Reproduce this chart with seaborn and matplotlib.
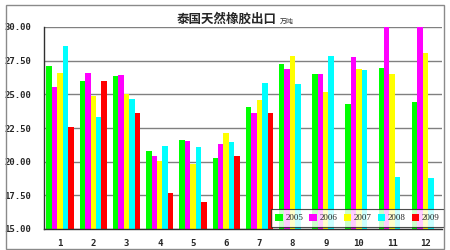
import numpy as np
import pandas as pd
import matplotlib
matplotlib.use("Agg")
import matplotlib.pyplot as plt
from matplotlib.patches import Rectangle, Patch
import seaborn as sns

months = ["1", "2", "3", "4", "5", "6", "7", "8", "9", "10", "11", "12"]
years = ["2005", "2006", "2007", "2008", "2009"]
v2005 = [27.08, 26.00, 26.38, 20.82, 21.64, 20.25, 24.06, 27.25, 26.49, 24.28, 26.98, 24.41]
v2006 = [25.52, 26.56, 26.44, 20.42, 21.56, 21.34, 23.64, 26.90, 26.49, 27.77, 30.20, 30.20]
v2007 = [26.56, 24.88, 25.03, 20.05, 19.85, 22.10, 24.58, 27.87, 25.17, 26.90, 26.49, 28.07]
v2008 = [28.59, 23.30, 24.63, 21.19, 21.11, 21.49, 25.84, 25.75, 27.85, 26.81, 18.89, 18.77]
v2009 = [22.60, 25.97, 23.60, 17.68, 16.98, 20.45, 23.60, np.nan, np.nan, np.nan, np.nan, np.nan]
colors = ["#00FF00", "#FF00FF", "#FFFF00", "#00FFFF", "#FF0000"]
title = "泰国天然橡胶出口"
unit = "万吨"

series = [v2005, v2006, v2007, v2008, v2009]
rows = []
for y, vals in zip(years, series):
    for m, v in zip(months, vals):
        rows.append({"month": m, "year": y, "value": v})
df = pd.DataFrame(rows)

sns.set_style("white")
plt.rcParams["font.family"] = ["Noto Sans CJK SC", "DejaVu Sans"]

W, H = 450, 250
fig = plt.figure(figsize=(W / 100, H / 100), dpi=100)
fig.patch.set_facecolor("white")

# outer frame
fig.patches.append(Rectangle((6 / W, 1 / H), 438 / W, 244 / H, transform=fig.transFigure,
                             fill=False, edgecolor="#8a8a8a", linewidth=1.0, zorder=0))

x0, x1, ytop, ybot = 43.5, 442, 27, 229
ax = fig.add_axes([x0 / W, (H - ybot) / H, (x1 - x0) / W, (ybot - ytop) / H])

sns.barplot(data=df, x="month", y="value", hue="year", hue_order=years, order=months,
            palette=colors, width=0.82, linewidth=0, saturation=1, ax=ax, legend=False)

ax.set_ylim(15, 30)
ax.set_xlim(-0.5, 11.5)
ax.set_yticks([15, 17.5, 20, 22.5, 25, 27.5, 30])
ax.set_yticklabels(["%.2f" % t for t in [15, 17.5, 20, 22.5, 25, 27.5, 30]],
                   family="DejaVu Sans Mono", fontweight="bold", fontsize=6.5)
ax.yaxis.grid(True, color="#808080", linewidth=1.0)
ax.set_axisbelow(True)
ax.tick_params(axis="y", length=0, pad=9)

ax.set_xticks(range(12))
ax.set_xticklabels(months, family="DejaVu Sans Mono", fontweight="bold", fontsize=6.5)
ax.set_xticks(np.arange(-0.5, 12, 1), minor=True)
ax.tick_params(axis="x", which="major", length=0, pad=7)
ax.tick_params(axis="x", which="minor", length=3, color="#404040", width=0.8)
ax.set_xlabel("")
ax.set_ylabel("")

for s in ["top", "right"]:
    ax.spines[s].set_visible(False)
for s in ["left", "bottom"]:
    ax.spines[s].set_color("#303030")
    ax.spines[s].set_linewidth(1.0)

handles = [Patch(facecolor=c, edgecolor="none") for c in colors]
leg = ax.legend(handles, years, loc="lower right", ncol=5,
                bbox_to_anchor=(444 / W, 1 - 227 / H), bbox_transform=fig.transFigure,
                borderaxespad=0, frameon=True, fancybox=False, shadow=False,
                prop={"family": "Liberation Serif", "size": 6.5},
                handlelength=0.8, handleheight=0.8, handletextpad=0.3,
                columnspacing=0.7, borderpad=0.5)
leg.get_frame().set_edgecolor("#202020")
leg.get_frame().set_linewidth(0.8)

fig.text(226.5 / W, 1 - 19 / H, title, ha="center", va="center", fontsize=9,
         fontweight="bold", family=["Noto Sans CJK SC", "DejaVu Sans"])
fig.text(280 / W, 1 - 22 / H, unit, ha="left", va="center", fontsize=5,
         family=["Noto Sans CJK SC", "DejaVu Sans"], color="#303030")

fig.savefig("out.png", dpi=100)
